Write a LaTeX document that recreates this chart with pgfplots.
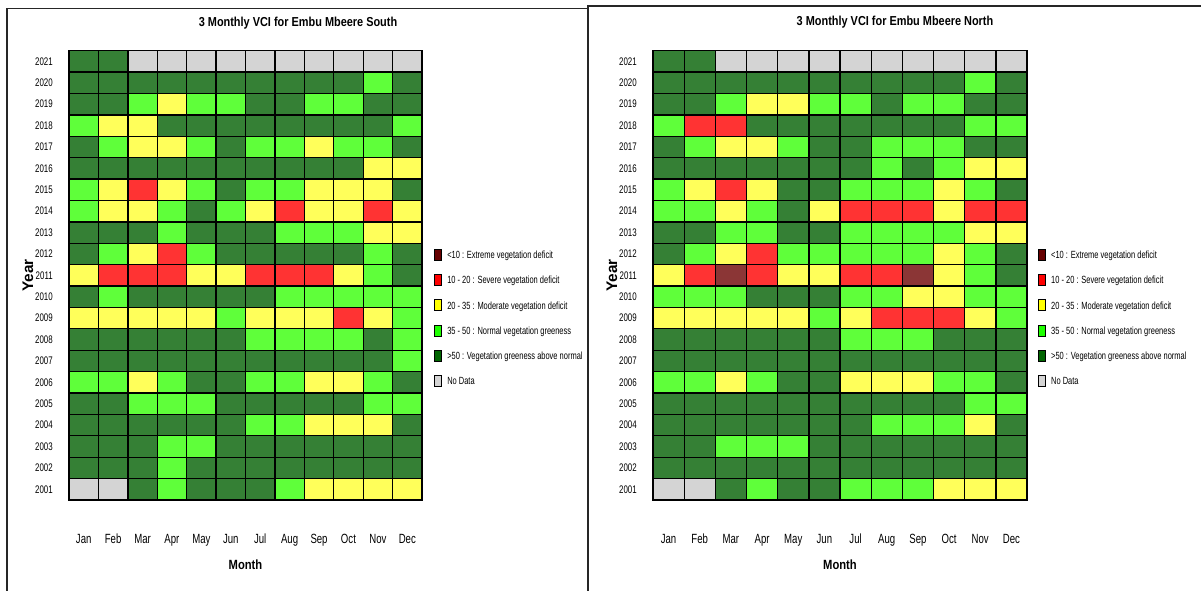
\documentclass[border=0pt]{standalone}
\usepackage{pgfplots}
\pgfplotsset{compat=1.18}
\usepackage{pgfplotstable}
\usepackage{fontspec}
\setmainfont{Liberation Sans}
\newfontfamily\nfont{Liberation Sans}[FakeStretch=0.72]
\newfontfamily\tfont{Liberation Sans}[FakeStretch=0.84]

% cell colours
\definecolor{cX}{RGB}{139,54,54}
\definecolor{cR}{RGB}{255,51,51}
\definecolor{cY}{RGB}{255,255,90}
\definecolor{cG}{RGB}{95,255,58}
\definecolor{cD}{RGB}{53,128,53}
\definecolor{cN}{RGB}{212,212,212}
% legend swatch colours
\definecolor{lX}{RGB}{102,0,0}
\definecolor{lR}{RGB}{255,0,0}
\definecolor{lY}{RGB}{255,255,0}
\definecolor{lG}{RGB}{30,255,0}
\definecolor{lD}{RGB}{0,100,0}
\definecolor{lN}{RGB}{212,212,212}

% VCI class per month: 0 <10, 1 10-20, 2 20-35, 3 35-50, 4 >50, 5 no data
\pgfplotstableread{
Y    Jan Feb Mar Apr May Jun Jul Aug Sep Oct Nov Dec
2021 4 4 5 5 5 5 5 5 5 5 5 5
2020 4 4 4 4 4 4 4 4 4 4 3 4
2019 4 4 3 2 3 3 4 4 3 3 4 4
2018 3 2 2 4 4 4 4 4 4 4 4 3
2017 4 3 2 2 3 4 3 3 2 3 3 4
2016 4 4 4 4 4 4 4 4 4 4 2 2
2015 3 2 1 2 3 4 3 3 2 2 2 4
2014 3 2 2 3 4 3 2 1 2 2 1 2
2013 4 4 4 3 4 4 4 3 3 3 2 2
2012 4 3 2 1 3 4 4 4 4 4 3 4
2011 2 1 1 1 2 2 1 1 1 2 3 4
2010 4 3 4 4 4 4 4 3 3 3 3 3
2009 2 2 2 2 2 3 2 2 2 1 2 3
2008 4 4 4 4 4 4 3 3 3 3 4 3
2007 4 4 4 4 4 4 4 4 4 4 4 3
2006 3 3 2 3 4 4 3 3 2 2 3 4
2005 4 4 3 3 3 4 4 4 4 4 3 3
2004 4 4 4 4 4 4 3 3 2 2 2 4
2003 4 4 4 3 3 4 4 4 4 4 4 4
2002 4 4 4 3 4 4 4 4 4 4 4 4
2001 5 5 4 3 4 4 4 3 2 2 2 2
}\south

\pgfplotstableread{
Y    Jan Feb Mar Apr May Jun Jul Aug Sep Oct Nov Dec
2021 4 4 5 5 5 5 5 5 5 5 5 5
2020 4 4 4 4 4 4 4 4 4 4 3 4
2019 4 4 3 2 2 3 3 4 3 3 4 4
2018 3 1 1 4 4 4 4 4 4 4 3 3
2017 4 3 2 2 3 4 4 3 3 3 4 4
2016 4 4 4 4 4 4 4 3 4 3 2 2
2015 3 2 1 2 4 4 3 3 3 2 3 4
2014 3 3 2 3 4 2 1 1 1 2 1 1
2013 4 4 3 3 4 4 3 3 3 3 2 2
2012 4 3 2 1 3 3 3 3 3 2 3 4
2011 2 1 0 1 2 2 1 1 0 2 3 4
2010 3 3 3 4 4 4 3 3 2 2 3 3
2009 2 2 2 2 2 3 2 1 1 1 2 3
2008 4 4 4 4 4 4 3 3 3 4 4 4
2007 4 4 4 4 4 4 4 4 4 4 4 4
2006 3 3 2 3 4 4 2 2 2 3 3 4
2005 4 4 4 4 4 4 4 4 4 4 3 3
2004 4 4 4 4 4 4 4 3 3 3 2 4
2003 4 4 3 3 3 4 4 4 4 4 4 4
2002 4 4 4 4 4 4 4 4 4 4 4 4
2001 5 5 4 3 4 4 3 3 3 2 2 2
}\north

% one grid cell (width x height of a month/year slot)
\pgfdeclareplotmark{cellS}{\pgfpathrectangle{\pgfpoint{-11.031pt}{-8.024pt}}{\pgfpoint{22.0625pt}{16.048pt}}\pgfusepathqfillstroke}
\pgfdeclareplotmark{cellN}{\pgfpathrectangle{\pgfpoint{-11.6875pt}{-8.024pt}}{\pgfpoint{23.375pt}{16.048pt}}\pgfusepathqfillstroke}

\pgfplotsset{
  vci panel/.style={
    scale only axis, height=337pt,
    xmin=0.5, xmax=12.5, ymin=2000.5, ymax=2021.5,
    clip=false, axis line style={draw=none}, tick style={draw=none},
    xtick={1,...,12},
    xticklabels={Jan,Feb,Mar,Apr,May,Jun,Jul,Aug,Sep,Oct,Nov,Dec},
    ytick={2001,...,2021},
    /pgf/number format/1000 sep={},
    /pgf/number format/assume math mode=true,
    xticklabel style={font=\nfont\fontsize{10}{12}\selectfont,
      anchor=base, inner sep=0pt, yshift=-32.25pt},
    yticklabel style={font=\nfont\fontsize{8.25}{10}\selectfont,
      anchor=east, inner sep=0pt, xshift=-12pt},
    xlabel={Month}, ylabel={Year},
    xlabel style={font=\tfont\bfseries\fontsize{10}{12}\selectfont,
      at={([yshift=-48.75pt]axis description cs:0.5,0)}, anchor=center},
    ylabel style={font=\bfseries\fontsize{11.5}{13}\selectfont,
      at={([xshift=-30.75pt]axis description cs:0,0.5)}, anchor=center},
    legend cell align=left,
    legend style={draw=none, fill=none, inner sep=0pt, outer sep=0pt,
      anchor=north west, row sep=10.15pt, column sep=3.75pt,
      font=\nfont\fontsize{7.8}{9}\selectfont,
      nodes={inner sep=0pt, text height=5.7pt, text depth=0pt}},
    legend image code/.code={\draw[#1,draw=black,line width=0.6pt] (0pt,-4.1pt) rectangle (5.6pt,4.1pt);},
  },
  vci cells/.style={scatter, only marks, forget plot, draw=black,
    line width=1pt, point meta=explicit symbolic,
    scatter/classes={
      0={draw=black, fill=cX}, 1={draw=black, fill=cR}, 2={draw=black, fill=cY},
      3={draw=black, fill=cG}, 4={draw=black, fill=cD}, 5={draw=black, fill=cN}}},
}

\newcommand\vcilegend{%
  \addlegendimage{fill=lX}\addlegendentry{<10 : Extreme vegetation deficit}
  \addlegendimage{fill=lR}\addlegendentry{10 - 20 : Severe vegetation deficit}
  \addlegendimage{fill=lY}\addlegendentry{20 - 35 : Moderate vegetation deficit}
  \addlegendimage{fill=lG}\addlegendentry{35 - 50 : Normal vegetation greeness}
  \addlegendimage{fill=lD}\addlegendentry{>50 : Vegetation greeness above normal}
  \addlegendimage{fill=lN}\addlegendentry{No Data}
}

\begin{document}
\begin{tikzpicture}
\path[use as bounding box] (0,0) rectangle (900.75pt,-443.25pt);

% panel frames
\draw[line width=1pt, black!85] (5.25pt,-443.25pt) -- (5.25pt,-6.4pt) -- (441pt,-6.4pt);
\draw[line width=1pt, black!85] (441pt,-443.25pt) -- (441pt,-4.5pt) -- (900.75pt,-4.5pt);

% titles
\node[font=\tfont\bfseries\fontsize{9.75}{11}\selectfont] at (223.5pt,-17.25pt) {3 Monthly VCI for Embu Mbeere South};
\node[font=\tfont\bfseries\fontsize{9.75}{11}\selectfont] at (671.25pt,-16.5pt) {3 Monthly VCI for Embu Mbeere North};

\begin{axis}[vci panel, width=264.75pt,
    at={(51.75pt,-375pt)}, anchor=south west,
    legend style={at={(axis description cs:1.034,0.5587)}}]
  \pgfplotsinvokeforeach{1,...,12}{
    \addplot[vci cells, mark=cellS] table[x expr=#1, y=Y, meta index=#1] {\south};
  }
  \vcilegend
\end{axis}

\begin{axis}[vci panel, width=280.5pt,
    at={(489.75pt,-375pt)}, anchor=south west,
    legend style={at={(axis description cs:1.029,0.5587)}}]
  \pgfplotsinvokeforeach{1,...,12}{
    \addplot[vci cells, mark=cellN] table[x expr=#1, y=Y, meta index=#1] {\north};
  }
  \vcilegend
\end{axis}
\end{tikzpicture}
\end{document}
